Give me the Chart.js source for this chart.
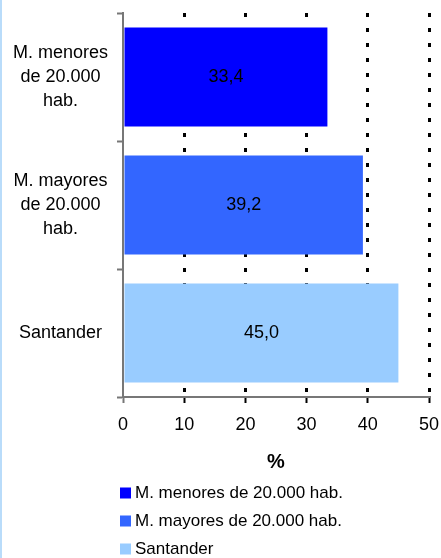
<!DOCTYPE html>
<html>
<head>
<meta charset="utf-8">
<script src="https://cdn.jsdelivr.net/npm/chart.js@4/dist/chart.umd.min.js"></script>
<style>
  body { margin: 0; background: #fff; }
  #wrap { position: relative; width: 441px; height: 558px; }
  #strip { position: absolute; left: 0; top: 0; width: 2px; height: 558px; background: #b9dcfa; }
</style>
</head>
<body>
<div id="wrap">
  <canvas id="chart" width="441" height="558"></canvas>
  <div id="strip"></div>
</div>
<script>
var categories = [["M. menores", "de 20.000", "hab."], ["M. mayores", "de 20.000", "hab."], ["Santander"]];
var legendLabels = ["M. menores de 20.000 hab.", "M. mayores de 20.000 hab.", "Santander"];
var values = [33.4, 39.2, 45.0];
var barColors = ["#0000FF", "#3366FF", "#99CCFF"];
var xMin = 0, xMax = 50, xStep = 10;
var axisTitle = "%";

var FONT = "'Liberation Sans', Arial, sans-serif";

// value printed in the middle of each bar, spanish decimal comma
var barValues = {
  id: "barValues",
  afterDatasetsDraw: function(chart) {
    var ctx = chart.ctx;
    var meta = chart.getDatasetMeta(0);
    ctx.save();
    ctx.font = "18px " + FONT;
    ctx.fillStyle = "#000";
    ctx.textAlign = "center";
    ctx.textBaseline = "middle";
    meta.data.forEach(function(bar, i) {
      var txt = values[i].toFixed(1).replace(".", ",");
      ctx.fillText(txt, (bar.x + bar.base) / 2, bar.y);
    });
    ctx.restore();
  }
};

// legend stacked one item per row, under the axis title
var stackedLegend = {
  id: "stackedLegend",
  afterDraw: function(chart) {
    var ctx = chart.ctx;
    ctx.save();
    ctx.font = "17px " + FONT;
    ctx.textBaseline = "middle";
    ctx.textAlign = "left";
    for (var i = 0; i < legendLabels.length; i++) {
      var cy = 493 + i * 28;
      ctx.fillStyle = barColors[i];
      ctx.fillRect(120, cy - 5.5, 11, 11);
      ctx.fillStyle = "#000";
      ctx.fillText(legendLabels[i], 135, cy);
    }
    ctx.restore();
  }
};

var chart = new Chart(document.getElementById("chart"), {
  type: "bar",
  data: {
    labels: categories,
    datasets: [{
      data: values,
      backgroundColor: barColors,
      borderWidth: 0,
      barPercentage: 0.773,
      categoryPercentage: 1
    }]
  },
  options: {
    indexAxis: "y",
    responsive: false,
    animation: false,
    events: [],
    layout: { padding: { top: 13, right: 12, left: 0, bottom: 0 } },
    plugins: { legend: { display: false }, tooltip: { enabled: false } },
    scales: {
      x: {
        min: xMin,
        max: xMax,
        afterFit: function(scale) {
          scale.height = 161;
          scale.paddingLeft = 0;
          scale.paddingRight = 0;
        },
        ticks: { stepSize: xStep, color: "#000", font: { family: FONT, size: 18 }, padding: 11 },
        grid: {
          color: function(c) { return c.tick && c.tick.value === 0 ? "rgba(0,0,0,0)" : "#000"; },
          lineWidth: 3,
          drawTicks: true,
          tickLength: 6,
          tickWidth: 2,
          tickColor: function(c) { return c.tick && c.tick.value === 0 ? "#777" : "#000"; },
          tickBorderDash: []
        },
        border: { color: "#777", width: 2, dash: [4, 11] },
        title: {
          display: true,
          text: axisTitle,
          color: "#000",
          font: { family: FONT, size: 20, weight: "bold" },
          padding: { top: 0, bottom: 84 }
        }
      },
      y: {
        afterFit: function(scale) {
          scale.width = 123;
          scale.paddingTop = 0;
          scale.paddingBottom = 0;
        },
        ticks: {
          color: "#000",
          crossAlign: "center",
          padding: 9,
          font: { family: FONT, size: 18, lineHeight: 1.33 }
        },
        grid: {
          drawOnChartArea: false,
          drawTicks: true,
          tickLength: 6,
          tickWidth: 2,
          tickColor: "#777",
          offset: true
        },
        border: { color: "#777", width: 2 }
      }
    }
  },
  plugins: [barValues, stackedLegend]
});
</script>
</body>
</html>
